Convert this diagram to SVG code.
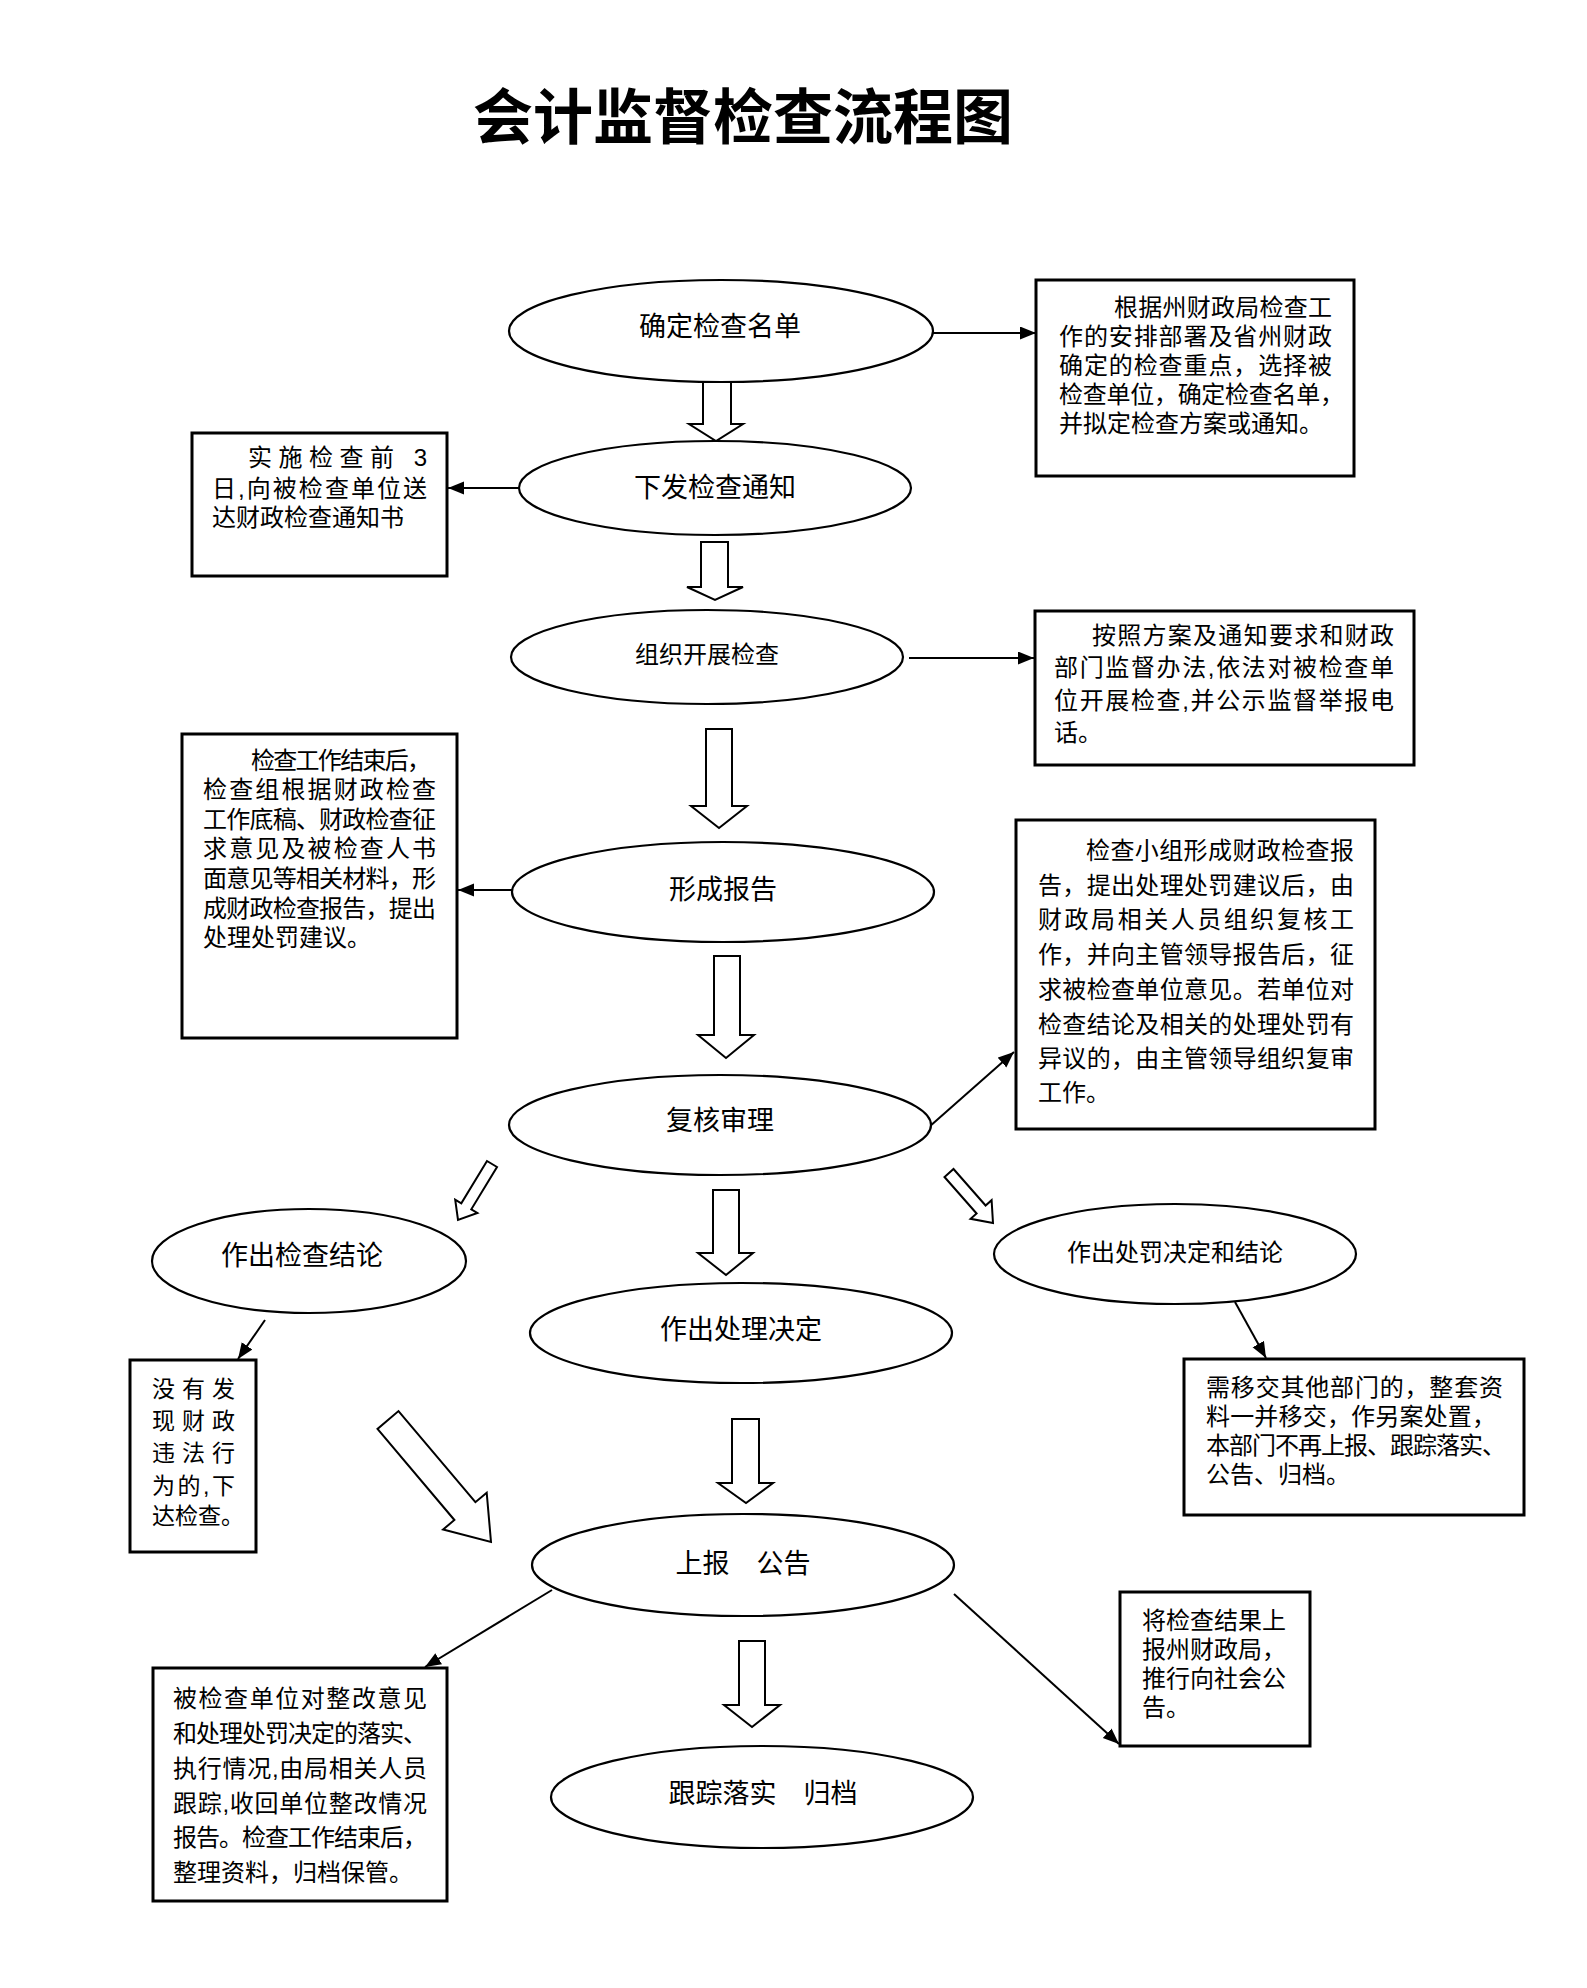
<svg xmlns="http://www.w3.org/2000/svg" width="1587" height="1988" viewBox="0 0 1587 1988">
<defs>
<style>
.bg{fill:#fff}
.el{fill:#fff;stroke:#000;stroke-width:2.2}
.bx{fill:#fff;stroke:#000;stroke-width:3}
.ha{fill:#fff;stroke:#000;stroke-width:2;stroke-linejoin:miter}
.ln{fill:none;stroke:#000;stroke-width:2;marker-end:url(#ah)}
.t{font-family:"Liberation Sans","Noto Sans CJK SC","Noto Sans CJK TC",sans-serif;fill:#000}
.et{font-size:27px;text-anchor:middle}
.bt{font-size:24px}
.title{font-family:"Liberation Serif","Noto Sans CJK SC",serif;font-size:60px;font-weight:bold;text-anchor:middle;fill:#000}
</style>
<marker id="ah" markerUnits="userSpaceOnUse" markerWidth="18" markerHeight="14" refX="16" refY="6.5" orient="auto">
<path d="M0,0 L16,6.5 L0,13 Z" fill="#000"/>
</marker>
</defs>
<rect class="bg" x="0" y="0" width="1587" height="1988"/>
<text class="title" x="743" y="139">会计监督检查流程图</text>

<g id="connectors">
<polygon class="ha" points="703,382 731,382 731,424 743,424 716,441 689,424 703,424"/>
<polygon class="ha" points="701,542 728,542 728,587 743,587 715,600 687,587 701,587"/>
<polygon class="ha" points="706,729 732,729 732,806 747,806 719,828 691,806 706,806"/>
<polygon class="ha" points="714,956 740,956 740,1035 754,1035 726,1058 698,1035 714,1035"/>
<polygon class="ha" points="713,1190 739,1190 739,1253 753,1253 726,1275 698,1253 713,1253"/>
<polygon class="ha" points="732,1419 759,1419 759,1483 773,1483 746,1503 718,1483 732,1483"/>
<polygon class="ha" points="739,1641 765,1641 765,1705 780,1705 752,1727 724,1705 739,1705"/>
<polygon class="ha" points="487,1161 461.3,1203.3 455.2,1199.6 458,1220 477.4,1213 471.3,1209.3 497,1167"/>
<polygon class="ha" points="944.5,1177 976.6,1213.5 970.6,1218.8 993,1223 991.6,1200.2 985.6,1205.5 953.5,1169"/>
<polygon class="ha" points="377.5,1428.9 454.4,1520 443.1,1529.5 491,1542 486.7,1492.7 475.4,1502.2 398.5,1411.1"/>
<line class="ln" x1="933" y1="333" x2="1036" y2="333"/>
<line class="ln" x1="519" y1="488" x2="448" y2="488"/>
<line class="ln" x1="909" y1="658" x2="1034" y2="658"/>
<line class="ln" x1="512" y1="890" x2="458" y2="890"/>
<line class="ln" x1="929" y1="1127" x2="1014" y2="1052"/>
<line class="ln" x1="265" y1="1320" x2="238" y2="1359"/>
<line class="ln" x1="1235" y1="1302" x2="1266" y2="1358"/>
<line class="ln" x1="552" y1="1590" x2="425" y2="1667"/>
<line class="ln" x1="954" y1="1594" x2="1119" y2="1744"/>
</g>

<g id="n1"><ellipse class="el" cx="721" cy="331" rx="212" ry="51"/><text class="t et" x="720" y="336">确定检查名单</text></g>
<g id="n2"><ellipse class="el" cx="715" cy="488" rx="196" ry="47"/><text class="t et" x="715" y="497">下发检查通知</text></g>
<g id="n3"><ellipse class="el" cx="707" cy="657" rx="196" ry="47"/><text class="t et" x="707" y="663" style="font-size:24px">组织开展检查</text></g>
<g id="n4"><ellipse class="el" cx="723" cy="892" rx="211" ry="50"/><text class="t et" x="723" y="899">形成报告</text></g>
<g id="n5"><ellipse class="el" cx="720" cy="1125" rx="211" ry="50"/><text class="t et" x="720" y="1130">复核审理</text></g>
<g id="n6"><ellipse class="el" cx="309" cy="1261" rx="157" ry="52"/><text class="t et" x="302" y="1265">作出检查结论</text></g>
<g id="n7"><ellipse class="el" cx="741" cy="1333" rx="211" ry="50"/><text class="t et" x="741" y="1339">作出处理决定</text></g>
<g id="n8"><ellipse class="el" cx="1175" cy="1254" rx="181" ry="50"/><text class="t et" x="1175" y="1261" style="font-size:24px">作出处罚决定和结论</text></g>
<g id="n9"><ellipse class="el" cx="743" cy="1565" rx="211" ry="51"/><text class="t et" x="743" y="1573">上报　公告</text></g>
<g id="n10"><ellipse class="el" cx="762" cy="1797" rx="211" ry="51"/><text class="t et" x="763" y="1803">跟踪落实　归档</text></g>

<g id="b1"><rect class="bx" x="192" y="433" width="255" height="143"/>
<text class="t bt" x="248" y="466" textLength="179" lengthAdjust="spacing">实施检查前 3</text>
<text class="t bt" x="212" y="497" textLength="215" lengthAdjust="spacing">日,向被检查单位送</text>
<text class="t bt" x="212" y="526">达财政检查通知书</text>
</g>

<g id="b2"><rect class="bx" x="1036" y="280" width="318" height="196"/>
<text class="t bt" x="1114" y="316" textLength="218" lengthAdjust="spacing">根据州财政局检查工</text>
<text class="t bt" x="1059" y="345" textLength="273" lengthAdjust="spacing">作的安排部署及省州财政</text>
<text class="t bt" x="1059" y="374" textLength="273" lengthAdjust="spacing">确定的检查重点，选择被</text>
<text class="t bt" x="1059" y="403" textLength="285" lengthAdjust="spacing">检查单位，确定检查名单，</text>
<text class="t bt" x="1059" y="432">并拟定检查方案或通知。</text>
</g>

<g id="b3"><rect class="bx" x="1035" y="611" width="379" height="154"/>
<text class="t bt" x="1092" y="644" textLength="302" lengthAdjust="spacing">按照方案及通知要求和财政</text>
<text class="t bt" x="1054" y="676" textLength="340" lengthAdjust="spacing">部门监督办法,依法对被检查单</text>
<text class="t bt" x="1054" y="709" textLength="340" lengthAdjust="spacing">位开展检查,并公示监督举报电</text>
<text class="t bt" x="1054" y="741">话。</text>
</g>

<g id="b4"><rect class="bx" x="182" y="734" width="275" height="304"/>
<text class="t bt" x="251" y="769" textLength="180" lengthAdjust="spacing">检查工作结束后，</text>
<text class="t bt" x="203" y="798" textLength="233" lengthAdjust="spacing">检查组根据财政检查</text>
<text class="t bt" x="203" y="828" textLength="233" lengthAdjust="spacing">工作底稿、财政检查征</text>
<text class="t bt" x="203" y="857" textLength="233" lengthAdjust="spacing">求意见及被检查人书</text>
<text class="t bt" x="203" y="887" textLength="233" lengthAdjust="spacing">面意见等相关材料，形</text>
<text class="t bt" x="203" y="917" textLength="233" lengthAdjust="spacing">成财政检查报告，提出</text>
<text class="t bt" x="203" y="946">处理处罚建议。</text>
</g>

<g id="b5"><rect class="bx" x="1016" y="820" width="359" height="309"/>
<text class="t bt" x="1086" y="859" textLength="268" lengthAdjust="spacing">检查小组形成财政检查报</text>
<text class="t bt" x="1038" y="894" textLength="316" lengthAdjust="spacing">告，提出处理处罚建议后，由</text>
<text class="t bt" x="1038" y="928" textLength="316" lengthAdjust="spacing">财政局相关人员组织复核工</text>
<text class="t bt" x="1038" y="963" textLength="316" lengthAdjust="spacing">作，并向主管领导报告后，征</text>
<text class="t bt" x="1038" y="998" textLength="316" lengthAdjust="spacing">求被检查单位意见。若单位对</text>
<text class="t bt" x="1038" y="1033" textLength="316" lengthAdjust="spacing">检查结论及相关的处理处罚有</text>
<text class="t bt" x="1038" y="1067" textLength="316" lengthAdjust="spacing">异议的，由主管领导组织复审</text>
<text class="t bt" x="1038" y="1101">工作。</text>
</g>

<g id="b6"><rect class="bx" x="130" y="1360" width="126" height="192"/>
<text class="t" style="font-size:23px" x="152" y="1397" textLength="83" lengthAdjust="spacing">没 有 发</text>
<text class="t" style="font-size:23px" x="152" y="1429" textLength="83" lengthAdjust="spacing">现 财 政</text>
<text class="t" style="font-size:23px" x="152" y="1461" textLength="83" lengthAdjust="spacing">违 法 行</text>
<text class="t" style="font-size:23px" x="152" y="1494" textLength="83" lengthAdjust="spacing">为的,下</text>
<text class="t" style="font-size:23px" x="152" y="1524">达检查。</text>
</g>

<g id="b7"><rect class="bx" x="1184" y="1359" width="340" height="156"/>
<text class="t bt" x="1206" y="1396" textLength="297" lengthAdjust="spacing">需移交其他部门的，整套资</text>
<text class="t bt" x="1206" y="1425" textLength="290" lengthAdjust="spacing">料一并移交，作另案处置，</text>
<text class="t bt" x="1206" y="1454" textLength="300" lengthAdjust="spacing">本部门不再上报、跟踪落实、</text>
<text class="t bt" x="1206" y="1483">公告、归档。</text>
</g>

<g id="b8"><rect class="bx" x="1120" y="1592" width="190" height="154"/>
<text class="t bt" x="1142" y="1629">将检查结果上</text>
<text class="t bt" x="1142" y="1658">报州财政局，</text>
<text class="t bt" x="1142" y="1687">推行向社会公</text>
<text class="t bt" x="1142" y="1716">告。</text>
</g>

<g id="b9"><rect class="bx" x="153" y="1668" width="294" height="233"/>
<text class="t bt" x="173" y="1707" textLength="254" lengthAdjust="spacing">被检查单位对整改意见</text>
<text class="t bt" x="173" y="1742" textLength="254" lengthAdjust="spacing">和处理处罚决定的落实、</text>
<text class="t bt" x="173" y="1777" textLength="254" lengthAdjust="spacing">执行情况,由局相关人员</text>
<text class="t bt" x="173" y="1812" textLength="254" lengthAdjust="spacing">跟踪,收回单位整改情况</text>
<text class="t bt" x="173" y="1846" textLength="254" lengthAdjust="spacing">报告。检查工作结束后，</text>
<text class="t bt" x="173" y="1881">整理资料，归档保管。</text>
</g>
</svg>
